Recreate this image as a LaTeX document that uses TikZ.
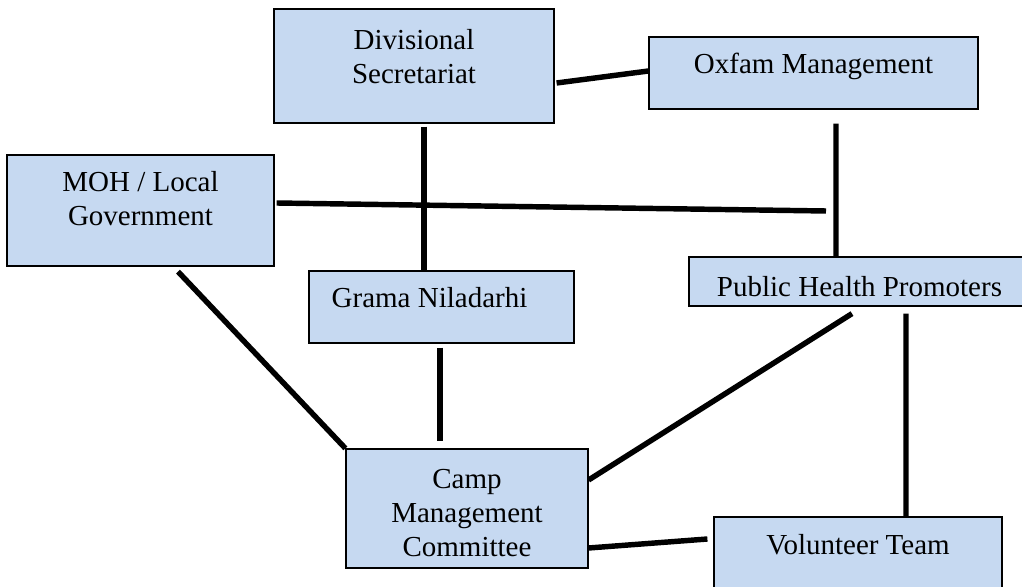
\documentclass[tikz,border=0pt]{standalone}
\usepackage{fontspec}
\setmainfont{Liberation Serif}
\usetikzlibrary{calc}
\definecolor{BoxFill}{HTML}{C6D9F1}
\tikzset{
  box/.style={draw, fill=BoxFill, line width=0.7pt, inner sep=0pt,
              font=\fontsize{16.5}{19.2}\selectfont},
  link/.style={line width=3.1pt},
}
\newcommand{\btxt}[2]{\raisebox{#1}[0pt][0pt]{\begin{tabular}{@{}c@{}}#2\end{tabular}}}

\begin{document}
\begin{tikzpicture}[x=0.02cm, y=-0.02cm]
  \useasboundingbox (0,0) rectangle (1022,587);
  \clip (0,0) rectangle (1022,587);

  % ---- boxes ----
  \node[box, minimum width=5.6cm,  minimum height=2.28cm] (divsec) at (414,66)
       {\btxt{-0.7pt}{Divisional\\Secretariat}};
  \node[box, minimum width=6.58cm, minimum height=1.44cm] (oxfam)  at (813.5,73)
       {\btxt{-1pt}{Oxfam Management}};
  \node[box, minimum width=5.34cm, minimum height=2.22cm] (moh)    at (140.5,210.5)
       {\btxt{0.5pt}{MOH / Local\\Government}};
  \node[box, minimum width=5.3cm,  minimum height=1.44cm] (grama)  at (441.5,307)
       {\btxt{-1pt}{Grama Niladarhi\hspace*{0.48cm}}};
  \node[box, minimum width=6.82cm, minimum height=0.98cm] (php)    at (859.5,281.5)
       {\btxt{-8.9pt}{Public Health Promoters}};
  \node[box, minimum width=4.84cm, minimum height=2.38cm] (camp)   at (467,508.5)
       {\btxt{-8.5pt}{Camp\\Management\\Committee}};
  \node[box, minimum width=5.76cm, minimum height=1.66cm] (vol)    at (858,558.5)
       {\btxt{1.9pt}{Volunteer Team}};

  % free end of the MOH line
  \coordinate (mohend) at (826,211);

  % ---- links ----
  \draw[link] ($(divsec.east)+(2,17)$)   -- ($(oxfam.west)+(0,-2)$);
  \draw[link] ($(divsec.south)+(10,3)$)  -- ($(grama.north)+(-17.5,0)$);
  \draw[link] ($(oxfam.south)+(22.5,14)$) -- ($(php.north)+(-23.5,0)$);
  \draw[link] ($(moh.east)+(2,-7.5)$)    -- (mohend);
  \draw[link] ($(moh.south)+(37.5,5)$)   -- (camp.north west);
  \draw[link] ($(grama.south)+(-1.5,4)$) -- ($(camp.north)+(-27,-7)$);
  \draw[link] ($(php.south)+(-7.5,7)$)   -- ($(camp.east)+(0,-28.5)$);
  \draw[link] ($(php.south)+(46.5,7)$)   -- ($(vol.north)+(48,0)$);
  \draw[link] ($(camp.east)+(0,39.5)$)   -- ($(vol.west)+(-6,-19.5)$);
\end{tikzpicture}
\end{document}
